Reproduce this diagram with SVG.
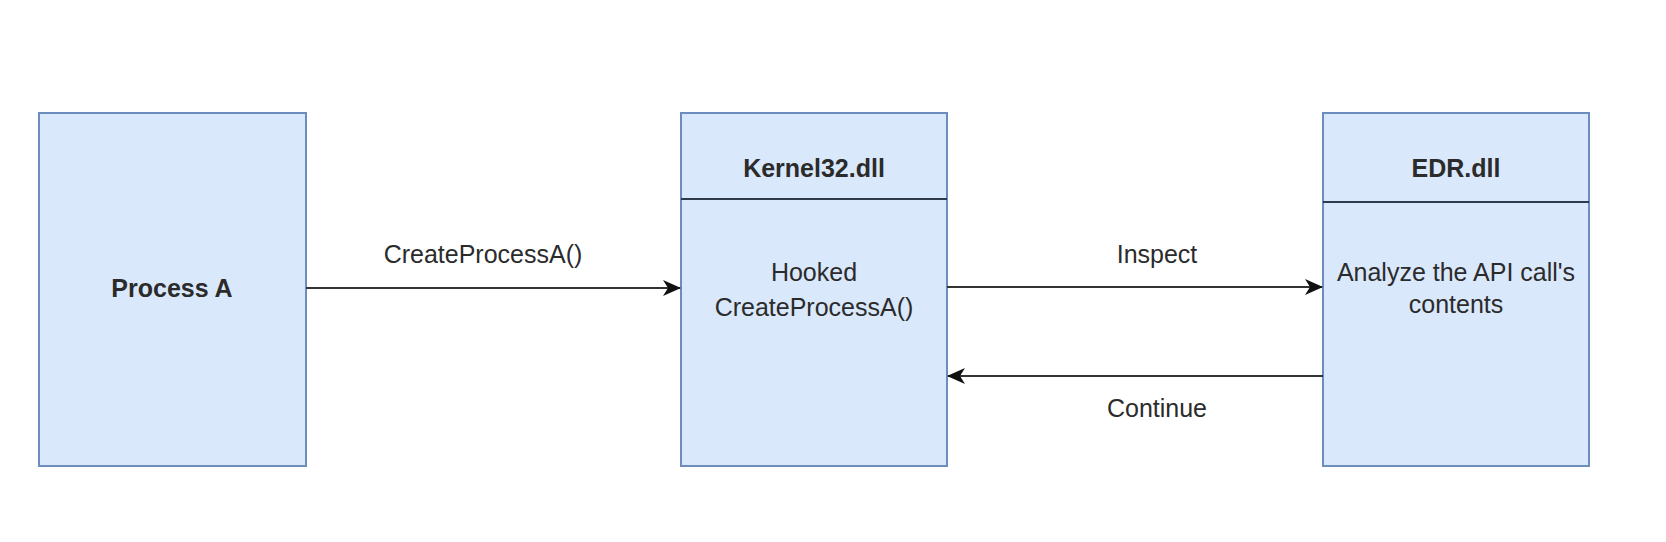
<svg xmlns="http://www.w3.org/2000/svg" width="1666" height="542" viewBox="0 0 1666 542">
<style>
.box{fill:#dae8fc;stroke:#6c8ebf;stroke-width:2}
.sep{stroke:#2f3b4a;stroke-width:2}
.t{font-family:"Liberation Sans",Arial,sans-serif;font-size:25px;fill:#2b2b2b;text-anchor:middle}
.b{font-weight:bold}
.c{stroke:#333;stroke-width:2.2;fill:none}
</style>
<defs>
<marker id="arr" viewBox="0 0 18 16" refX="17" refY="8" markerWidth="18" markerHeight="16" markerUnits="userSpaceOnUse" orient="auto">
<path d="M0,0 L18,8 L0,16 L5,8 Z" fill="#111"/>
</marker>
</defs>
<rect width="1666" height="542" fill="#ffffff"/>
<g id="process-a">
<rect class="box" x="39" y="113" width="267" height="353"/>
<text class="t b" x="172" y="297">Process A</text>
</g>
<g id="kernel32">
<rect class="box" x="681" y="113" width="266" height="353"/>
<line class="sep" x1="681" y1="199" x2="947" y2="199"/>
<text class="t b" x="814" y="177">Kernel32.dll</text>
<text class="t" x="814" y="281">Hooked</text>
<text class="t" x="814" y="316">CreateProcessA()</text>
</g>
<g id="edr">
<rect class="box" x="1323" y="113" width="266" height="353"/>
<line class="sep" x1="1323" y1="202" x2="1589" y2="202"/>
<text class="t b" x="1456" y="177">EDR.dll</text>
<text class="t" x="1456" y="281">Analyze the API call's</text>
<text class="t" x="1456" y="313">contents</text>
</g>
<g id="connectors">
<path class="c" d="M306,288 H680" marker-end="url(#arr)"/>
<path class="c" d="M947,287 H1322" marker-end="url(#arr)"/>
<path class="c" d="M1323,376 H948" marker-end="url(#arr)"/>
<text class="t" x="483" y="263">CreateProcessA()</text>
<text class="t" x="1157" y="263">Inspect</text>
<text class="t" x="1157" y="417">Continue</text>
</g>
</svg>
